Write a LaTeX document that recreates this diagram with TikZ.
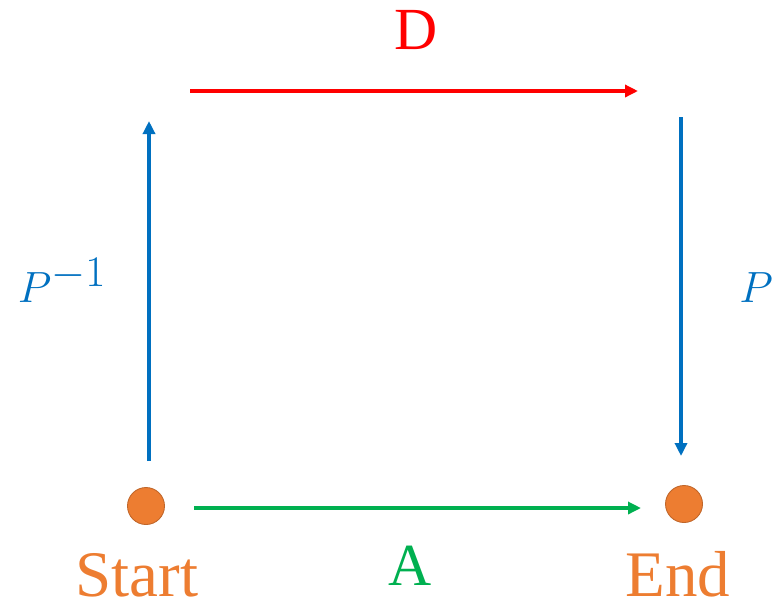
\documentclass[tikz,border=0pt]{standalone}
\usepackage{fontspec}
\setmainfont{Liberation Serif}
\usetikzlibrary{arrows.meta}
\definecolor{dotorange}{HTML}{ED7D31}
\definecolor{dotedge}{HTML}{C0662A}
\definecolor{mapblue}{HTML}{0070C0}
\definecolor{mapgreen}{HTML}{00B050}
\definecolor{mapred}{HTML}{FF0000}
\tikzset{
  state/.style={circle, fill=dotorange, draw=dotedge, line width=0.5pt, minimum size=0.74cm, inner sep=0pt},
  maparrow/.style={line width=2.3pt, -{Triangle[length=0.26cm, width=0.24cm]}},
  bigtext/.style={inner sep=0pt, font=\fontsize{37}{40}\selectfont},
}
\begin{document}
\begin{tikzpicture}[x=0.02cm, y=-0.02cm]
  \useasboundingbox (0,0) rectangle (776,609);
  % the two states
  \node[state] (start) at (146,506) {};
  \node[state] (end) at (684,504) {};
  \node[bigtext, text=dotorange, anchor=base] (starttext) at (137,596) {Start};
  \node[bigtext, text=dotorange, anchor=base] (endtext) at (678,596) {End};
  % arrow ends
  \coordinate (pinvfrom) at (149,461);
  \coordinate (pinvto) at (149,121);
  \coordinate (dfrom) at (190,91);
  \coordinate (dto) at (638,91);
  \coordinate (pfrom) at (681,117);
  \coordinate (pto) at (681,456);
  \coordinate (afrom) at (194,508);
  \coordinate (ato) at (641,508);
  \draw[maparrow, mapblue] (pinvfrom) -- (pinvto);
  \draw[maparrow, mapred] (dfrom) -- (dto);
  \draw[maparrow, mapblue] (pfrom) -- (pto);
  \draw[maparrow, mapgreen] (afrom) -- (ato);
  % labels
  \node[bigtext, text=mapred, font=\fontsize{34}{38}\selectfont] (dlabel) at (416,30) {D};
  \node[bigtext, text=mapgreen, font=\fontsize{34}{38}\selectfont] (alabel) at (410,566) {A};
  \node[bigtext, text=mapblue, font=\fontsize{42}{46}\selectfont] (pinvlabel) at (62,280) {$P^{-1}$};
  \node[bigtext, text=mapblue, font=\fontsize{42}{46}\selectfont] (plabel) at (756,288) {$P$};
\end{tikzpicture}
\end{document}
